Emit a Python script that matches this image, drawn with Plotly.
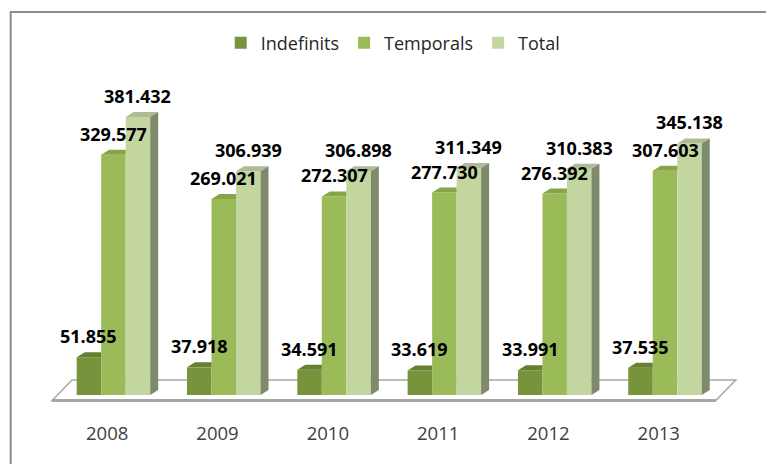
import plotly.graph_objects as go

years = ["2008", "2009", "2010", "2011", "2012", "2013"]
indefinits = [51855, 37918, 34591, 33619, 33991, 37535]
temporals = [329577, 269021, 272307, 277730, 276392, 307603]
total = [381432, 306939, 306898, 311349, 310383, 345138]
series_names = ["Indefinits", "Temporals", "Total"]

front_colors = ["#77933C", "#9BBB59", "#C4D6A0"]
top_colors = ["#667F31", "#87A548", "#AEBB94"]
side_color = "#7F8A6C"

W, H = 766, 464
n = len(years)
px_per_x = 110.3
x0_px = 107.5                     # pixel of first category centre
xr = [-0.6, n - 0.2]
ML = x0_px + xr[0] * px_per_x
plot_w = (xr[1] - xr[0]) * px_per_x
MR = W - ML - plot_w
MT, MB = 60, 44
plot_h = H - MT - MB
px_per_y = 0.729 / 1000.0
base_px = 395
yr = [-(MT + plot_h - base_px) / px_per_y, (base_px - MT) / px_per_y]

bar_w = 24.5 / px_per_x
offsets = [-0.2765, -0.2765 + bar_w, -0.2765 + 2 * bar_w]
dx = 8 / px_per_x
dy = 5 / px_per_y

xs = list(range(n))
all_series = [indefinits, temporals, total]

fig = go.Figure()
for j, (name, vals) in enumerate(zip(series_names, all_series)):
    fig.add_trace(go.Bar(
        x=xs, y=vals, name=name, width=bar_w, offset=offsets[j],
        marker=dict(color=front_colors[j], line=dict(width=0)),
        hoverinfo="skip",
    ))

# 3D top and side faces derived from data
for j, vals in enumerate(all_series):
    px_, py_ = [], []
    for i, v in enumerate(vals):
        x0 = i + offsets[j]
        x1 = x0 + bar_w
        if j < 2:
            pts = [(x0, v), (x1, v), (x1, v + dy), (x0 + dx, v + dy)]
        else:
            pts = [(x0, v), (x1, v), (x1 + dx, v + dy), (x0 + dx, v + dy)]
        for a, b in pts + [pts[0]]:
            px_.append(a)
            py_.append(b)
        px_.append(None)
        py_.append(None)
    fig.add_trace(go.Scatter(x=px_, y=py_, mode="lines", fill="toself",
                             fillcolor=top_colors[j], line=dict(width=0),
                             hoverinfo="skip", showlegend=False))

sx, sy = [], []
for i, v in enumerate(total):
    x1 = i + offsets[2] + bar_w
    pts = [(x1, 0), (x1, v), (x1 + dx, v + dy), (x1 + dx, dy)]
    for a, b in pts + [pts[0]]:
        sx.append(a)
        sy.append(b)
    sx.append(None)
    sy.append(None)
fig.add_trace(go.Scatter(x=sx, y=sy, mode="lines", fill="toself",
                         fillcolor=side_color, line=dict(width=0),
                         hoverinfo="skip", showlegend=False))

# data labels
annotations = []
for j, vals in enumerate(all_series):
    for i, v in enumerate(vals):
        annotations.append(dict(
            x=i + offsets[j] + bar_w / 2, y=v, xref="x", yref="y",
            text=f"{v:,}".replace(",", "."), showarrow=False,
            yanchor="middle", xanchor="center", yshift=21,
            font=dict(family="Open Sans", size=18, color="#000000", weight="bold"),
        ))

# floor plate
f_front = -5.5 / px_per_y
f_back = 15 / px_per_y
fl_l, fl_r = -0.5, n - 0.5 + 0.017
fl_d = 20 / px_per_x
floor_path = (f"M{fl_l},{f_front} L{fl_r},{f_front} L{fl_r + fl_d},{f_back} "
              f"L{fl_l + fl_d},{f_back} Z")
shapes = [
    dict(type="path", path=floor_path, xref="x", yref="y", layer="below",
         fillcolor="#FFFFFF", line=dict(color="#A6A6A6", width=1.5)),
    dict(type="line", x0=fl_l, x1=fl_r, y0=f_front, y1=f_front, xref="x", yref="y",
         layer="below", line=dict(color="#A6A6A6", width=3)),
    dict(type="rect", xref="paper", yref="paper",
         x0=(11 - ML) / plot_w, x1=(W + 10 - ML) / plot_w,
         y0=(H - MB - (H + 10)) / plot_h, y1=(H - MB - 12) / plot_h,
         line=dict(color="#8C8C8C", width=2), fillcolor="rgba(0,0,0,0)"),
]

fig.update_layout(
    width=W, height=H,
    margin=dict(l=ML, r=MR, t=MT, b=MB, pad=0),
    paper_bgcolor="#FFFFFF", plot_bgcolor="rgba(0,0,0,0)",
    barmode="overlay",
    showlegend=True,
    legend=dict(orientation="h", x=(393.5 - ML) / plot_w, xanchor="center",
                y=(H - MB - 43) / plot_h, yanchor="middle",
                font=dict(family="Open Sans", size=18, color="#262626"),
                traceorder="normal", itemclick=False, itemdoubleclick=False),
    xaxis=dict(range=xr, tickvals=xs, ticktext=years, showgrid=False,
               zeroline=False, showline=False, ticks="", fixedrange=True,
               automargin=False,
               tickfont=dict(family="Open Sans", size=18.5, color="#404040")),
    yaxis=dict(range=yr, visible=False, showgrid=False, zeroline=False,
               fixedrange=True, automargin=False),
    annotations=annotations,
    shapes=shapes,
)

fig.write_html(
    "out.html",
    config={"displayModeBar": False},
    post_script="document.body.style.margin='0';document.body.style.overflow='hidden';",
)
